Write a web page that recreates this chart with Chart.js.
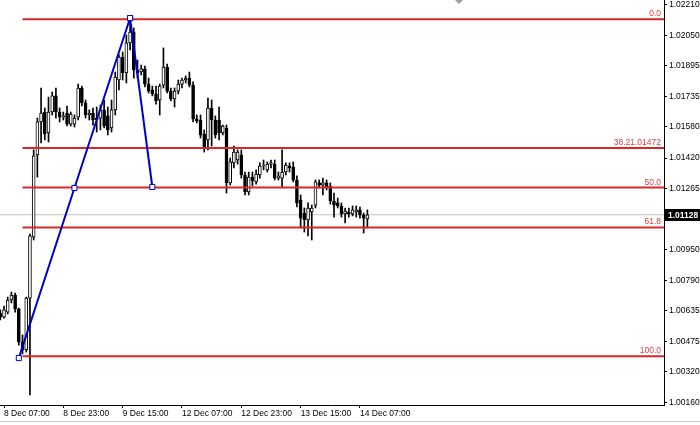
<!DOCTYPE html>
<html><head><meta charset="utf-8">
<script src="https://cdn.jsdelivr.net/npm/chart.js@4"></script>
<style>html,body{margin:0;padding:0;background:#fff;}canvas{display:block;}</style>
</head><body>
<canvas id="c" width="700" height="425"></canvas>
<script>
// Hourly bars; bar index 0 = 8 Dec 07:00
const firstBar = -1;
const openP = [1.00622,1.00601,1.00627,1.00689,1.00715,1.00643,1.00473,1.00432,1.00699,1.01013,
1.01436,1.01606,1.01657,1.01549,1.01657,1.01740,1.01657,1.01631,1.01652,1.01595,
1.01595,1.01631,1.01781,1.01704,1.01642,1.01652,1.01616,1.01626,1.01668,1.01637,
1.01575,1.01668,1.01822,1.01940,1.01858,1.02013,1.02069,1.01874,1.01863,1.01879,
1.01801,1.01771,1.01750,1.01719,1.01796,1.01889,1.01765,1.01724,1.01765,1.01801,
1.01822,1.01832,1.01796,1.01621,1.01616,1.01544,1.01513,1.01678,1.01616,1.01616,
1.01549,1.01575,1.01292,1.01395,1.01410,1.01436,1.01333,1.01245,1.01322,1.01297,
1.01333,1.01379,1.01359,1.01389,1.01389,1.01317,1.01317,1.01348,1.01379,1.01374,
1.01307,1.01204,1.01137,1.01101,1.01142,1.01178,1.01292,1.01281,1.01292,1.01276,
1.01199,1.01189,1.01173,1.01132,1.01142,1.01132,1.01142,1.01153,1.01127,1.01106];
const highP = [1.00638,1.00658,1.00704,1.00730,1.00725,1.00648,1.00509,1.00704,1.01029,1.01462,
1.01626,1.01781,1.01678,1.01734,1.01760,1.01781,1.01678,1.01657,1.01688,1.01657,
1.01642,1.01801,1.01791,1.01719,1.01668,1.01678,1.01683,1.01693,1.01719,1.01683,
1.01719,1.01863,1.01951,1.01966,1.02054,1.02141,1.02090,1.01925,1.01899,1.01894,
1.01832,1.01791,1.01791,1.01801,1.01987,1.01904,1.01781,1.01781,1.01822,1.01832,
1.01843,1.01863,1.01812,1.01642,1.01642,1.01565,1.01729,1.01719,1.01637,1.01683,
1.01590,1.01590,1.01420,1.01482,1.01462,1.01462,1.01348,1.01348,1.01348,1.01359,
1.01395,1.01410,1.01400,1.01410,1.01410,1.01348,1.01462,1.01395,1.01395,1.01400,
1.01328,1.01230,1.01163,1.01189,1.01178,1.01307,1.01307,1.01317,1.01307,1.01292,
1.01240,1.01214,1.01189,1.01163,1.01163,1.01173,1.01173,1.01168,1.01137,1.01153];
const lowP = [1.00586,1.00596,1.00617,1.00674,1.00627,1.00457,1.00411,1.00421,1.00200,1.00998,
1.01322,1.01498,1.01513,1.01503,1.01642,1.01626,1.01606,1.01616,1.01585,1.01585,
1.01580,1.01616,1.01688,1.01626,1.01616,1.01590,1.01554,1.01565,1.01575,1.01539,
1.01554,1.01642,1.01771,1.01822,1.01807,1.01977,1.01832,1.01832,1.01848,1.01786,
1.01755,1.01740,1.01698,1.01642,1.01781,1.01755,1.01714,1.01683,1.01750,1.01781,
1.01807,1.01786,1.01606,1.01601,1.01523,1.01451,1.01462,1.01482,1.01523,1.01513,
1.01539,1.01240,1.01281,1.01369,1.01389,1.01317,1.01230,1.01230,1.01276,1.01286,
1.01317,1.01359,1.01348,1.01369,1.01307,1.01307,1.01271,1.01333,1.01348,1.01297,
1.01168,1.01060,1.01039,1.01019,1.00998,1.01163,1.01266,1.01230,1.01256,1.01183,
1.01116,1.01163,1.01116,1.01086,1.01116,1.01122,1.01116,1.01111,1.01034,1.01060];
const closeP = [1.00601,1.00638,1.00689,1.00715,1.00643,1.00473,1.00432,1.00699,1.01019,1.01431,
1.01606,1.01652,1.01544,1.01657,1.01740,1.01657,1.01631,1.01637,1.01595,1.01647,
1.01626,1.01781,1.01704,1.01642,1.01652,1.01616,1.01626,1.01668,1.01585,1.01565,
1.01668,1.01837,1.01940,1.01858,1.02013,1.02069,1.01874,1.01858,1.01879,1.01801,
1.01765,1.01750,1.01714,1.01791,1.01889,1.01765,1.01724,1.01765,1.01801,1.01822,
1.01832,1.01796,1.01621,1.01611,1.01539,1.01472,1.01678,1.01616,1.01539,1.01549,
1.01585,1.01292,1.01400,1.01451,1.01451,1.01333,1.01245,1.01322,1.01302,1.01338,
1.01379,1.01384,1.01389,1.01395,1.01317,1.01328,1.01348,1.01384,1.01369,1.01307,
1.01189,1.01111,1.01101,1.01163,1.01163,1.01297,1.01281,1.01292,1.01271,1.01199,
1.01178,1.01173,1.01132,1.01147,1.01132,1.01153,1.01153,1.01127,1.01111,1.01128];

const timeTickBars = [0, 16, 32, 48, 64, 80, 96];
const timeTickLabels = ['8 Dec 07:00','8 Dec 23:00','9 Dec 15:00','12 Dec 07:00','12 Dec 23:00','13 Dec 15:00','14 Dec 07:00'];
const priceTicks = [1.02210,1.02050,1.01895,1.01735,1.01580,1.01420,1.01265,1.00950,1.00790,1.00635,1.00475,1.00320,1.00160];
const bidPrice = 1.01128;

const fibStartBar = 5;
const fibLevels = [1.02135, 1.01472, 1.01268, 1.01063, 1.00400];
const fibTexts = ['0.0', '38.21.01472', '50.0', '61.8', '100.0'];

const trend1Bars = [4, 19, 34];
const trend1Prices = [1.00390, 1.01266, 1.02141];
const trend2Bars = [34, 40];
const trend2Prices = [1.02141, 1.01271];

const X_MIN = -1.08, X_MAX = 178;
const Y_MIN = 1.001483, Y_MAX = 1.02234;

const FONT = "'Liberation Sans', Arial, sans-serif";

const candleX = openP.map((_, k) => firstBar + k);
const bull = closeP.map((c, k) => c >= openP[k]);
const bodies = candleX.map((x, k) => ({x, y: [openP[k], closeP[k]]}));
const wicks = candleX.map((x, k) => ({x, y: [lowP[k], highP[k]]}));

const datasets = [];
datasets.push({
  type: 'line', data: trend1Bars.map((b, k) => ({x: b, y: trend1Prices[k]})),
  borderColor: '#0000cd', borderWidth: 2, tension: 0,
  pointStyle: 'rect', pointRadius: 3.6, pointBorderWidth: 1,
  pointBackgroundColor: '#fff', pointBorderColor: '#0000cd', order: 0
});
datasets.push({
  type: 'line', data: trend2Bars.map((b, k) => ({x: b, y: trend2Prices[k]})),
  borderColor: '#0000cd', borderWidth: 2, tension: 0,
  pointStyle: 'rect', pointRadius: 3.6, pointBorderWidth: 1,
  pointBackgroundColor: '#fff', pointBorderColor: '#0000cd', order: 0
});
fibLevels.forEach(lv => datasets.push({
  type: 'line', data: [{x: fibStartBar, y: lv}, {x: X_MAX, y: lv}],
  borderColor: '#dc2626', borderWidth: 2, pointRadius: 0, order: 1
}));
datasets.push({
  type: 'bar', data: bodies, grouped: false, barThickness: 3,
  backgroundColor: c => bull[c.dataIndex] ? '#ffffff' : '#000000',
  borderColor: '#000', borderWidth: 1, borderSkipped: false, order: 2
});
datasets.push({
  type: 'bar', data: wicks, grouped: false, barThickness: 1,
  backgroundColor: '#000', borderWidth: 0, order: 3
});
datasets.push({
  type: 'line', data: [{x: X_MIN, y: bidPrice}, {x: X_MAX, y: bidPrice}],
  borderColor: '#c0c0c0', borderWidth: 1, pointRadius: 0, order: 5
});

const decor = {
  id: 'decor',
  afterDatasetsDraw(chart) {
    const ctx = chart.ctx, ys = chart.scales.y, xs = chart.scales.x;
    ctx.save();
    ctx.font = '8.5px ' + FONT;
    ctx.fillStyle = '#e03c3c';
    ctx.textAlign = 'right';
    ctx.textBaseline = 'bottom';
    fibLevels.forEach((lv, k) => {
      ctx.fillText(fibTexts[k], xs.right - 3, ys.getPixelForValue(lv) - 1);
    });
    ctx.restore();
  },
  afterDraw(chart) {
    const ctx = chart.ctx, ys = chart.scales.y;
    ctx.save();
    const py = Math.round(ys.getPixelForValue(bidPrice));
    ctx.fillStyle = '#000';
    ctx.fillRect(ys.left + 1, py - 6, 36, 12);
    ctx.fillStyle = '#fff';
    ctx.font = 'bold 8.5px ' + FONT;
    ctx.textBaseline = 'middle';
    ctx.textAlign = 'left';
    ctx.fillText(bidPrice.toFixed(5), ys.left + 4, py + 0.5);
    ctx.fillStyle = '#c8c8c8';
    ctx.fillRect(0, 421, chart.width, 1);
    ctx.fillStyle = '#a0a0a0';
    ctx.beginPath();
    ctx.moveTo(455, 0); ctx.lineTo(463, 0); ctx.lineTo(459, 4); ctx.closePath(); ctx.fill();
    ctx.restore();
  }
};

Chart.defaults.font.family = FONT;
Chart.defaults.font.size = 8.5;
Chart.defaults.color = '#000';

new Chart(document.getElementById('c'), {
  type: 'bar',
  data: { datasets },
  options: {
    responsive: false, animation: false, events: [],
    layout: { padding: 0, autoPadding: false },
    plugins: { legend: { display: false }, tooltip: { enabled: false } },
    scales: {
      x: {
        type: 'linear', min: X_MIN, max: X_MAX, offset: false,
        grid: { display: true, drawOnChartArea: false, drawTicks: true, tickLength: 3, color: '#000', offset: false },
        border: { display: true, color: '#000', width: 1 },
        ticks: { autoSkip: false, maxRotation: 0, align: 'start', padding: 1,
                 callback: (v, i) => timeTickLabels[i] },
        afterBuildTicks: s => { s.ticks = timeTickBars.map(v => ({value: v})); },
        afterFit: s => { s.height = 20; s.paddingLeft = 0; s.paddingRight = 0; s.paddingTop = 0; s.paddingBottom = 0; }
      },
      y: {
        type: 'linear', position: 'right', min: Y_MIN, max: Y_MAX, beginAtZero: false,
        grid: { display: true, drawOnChartArea: false, drawTicks: true, tickLength: 3, color: '#000' },
        border: { display: true, color: '#000', width: 1 },
        ticks: { autoSkip: false, padding: 2, callback: v => v.toFixed(5) },
        afterBuildTicks: s => { s.ticks = priceTicks.map(v => ({value: v})); },
        afterFit: s => { s.width = 36; s.paddingTop = 0; s.paddingBottom = 0; s.paddingLeft = 0; s.paddingRight = 0; }
      }
    }
  },
  plugins: [decor]
});
</script>
</body></html>
